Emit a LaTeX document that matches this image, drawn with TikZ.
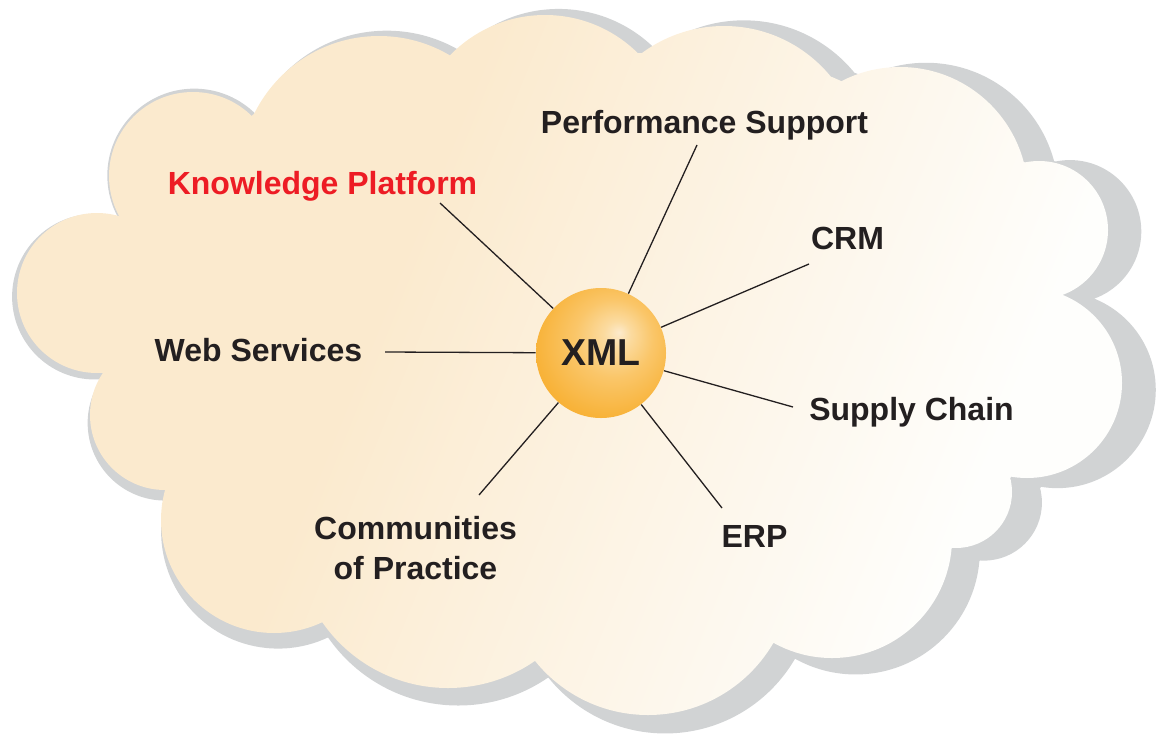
\documentclass[tikz,border=0pt]{standalone}
\usepackage{fontspec}
\setsansfont{Liberation Sans}

% colours
\definecolor{cloudA}{RGB}{251,234,206}
\definecolor{cloudB}{RGB}{253,246,234}
\definecolor{cloudC}{RGB}{254,254,252}
\definecolor{cloudShadow}{RGB}{209,211,212}
\definecolor{inkdark}{RGB}{35,31,32}
\definecolor{inkred}{RGB}{237,28,36}
\definecolor{ballA}{RGB}{252,234,204}
\definecolor{ballB}{RGB}{251,219,160}
\definecolor{ballC}{RGB}{250,198,105}
\definecolor{ballD}{RGB}{248,179,58}
\definecolor{ballE}{RGB}{246,168,35}

% cloud body: cream on the upper left fading to white on the lower right
\pgfdeclarehorizontalshading{cloudgrad}{100bp}{%
  color(0bp)=(cloudA); color(40bp)=(cloudA); color(58bp)=(cloudB);
  color(70bp)=(cloudC); color(100bp)=(cloudC)}
% central sphere, soft highlight towards the upper right
\pgfdeclareradialshading{xmlball}{\pgfpoint{7bp}{8bp}}{%
  color(0bp)=(ballA); color(5bp)=(ballB); color(15bp)=(ballC);
  color(28bp)=(ballD); color(38bp)=(ballE); color(50bp)=(ballE)}

\tikzset{
  lab/.style={font=\fontsize{16}{20}\selectfont\sffamily\bfseries,
    text=inkdark, inner sep=0pt},
  conn/.style={draw=inkdark, line width=0.65pt},
  hub/.style={circle, minimum size=65pt, inner sep=0pt, shade, shading=xmlball,
    font=\fontsize{18.75}{22}\selectfont\sffamily\bfseries, text=inkdark}
}

% cloud outline: core polygon through the cusps, plus one circle per lobe
\def\cloudcore{(103,373) -- (130,220) -- (255,113) -- (452,57) -- (641,53)
  -- (832,77) -- (1026,163) -- (1063,295) -- (1011,477) -- (952,548)
  -- (774,643) -- (535,661) -- (322,622) -- (165,490) -- cycle}
\def\cloudlobes{97/293/80, 193/176/84, 379/175/139, 545/147/132,
  724/164/138, 900/195/128, 1039/230/69, 1027/383/95, 956/492/56,
  832/538/120, 648/570/145, 448/535/153, 274/520/113, 165/415/75}

\begin{document}
\begin{tikzpicture}[x=0.5pt, y=-0.5pt]
\useasboundingbox (0,0) rectangle (1161,734);

% drop shadow: the cloud enlarged slightly towards the lower right
\begin{scope}[scale around={1.035:(157,188)}]
  \fill[cloudShadow] \cloudcore;
  \foreach \cx/\cy/\r in \cloudlobes
    \fill[cloudShadow] (\cx,\cy) circle[radius=\r];
\end{scope}

% cloud body, every piece painted with the same gradient
\begin{scope}
  \clip \cloudcore;
  \shade[shading=cloudgrad, shading angle=-22] (0,0) rectangle (1161,734);
\end{scope}
\foreach \cx/\cy/\r in \cloudlobes {
  \begin{scope}
    \clip (\cx,\cy) circle[radius=\r];
    \shade[shading=cloudgrad, shading angle=-22] (0,0) rectangle (1161,734);
  \end{scope}
}

% hub
\node[hub] (xml) at (601,353) {XML};

% labels
\node[lab, anchor=base] (ps) at (704.5,133) {Performance Support};
\node[lab, anchor=base, text=inkred] (kp) at (322.5,194.5) {Knowledge Platform};
\node[lab, anchor=base] (crm) at (847.5,249) {CRM};
\node[lab, anchor=base] (ws) at (258.5,361) {Web Services};
\node[lab, anchor=base] (sc) at (911.5,420) {Supply Chain};
\node[lab, anchor=base] (erp) at (754.5,547) {ERP};
\node[lab, anchor=south, align=center] (cop) at (415.5,580) {Communities\\of Practice};

% outer ends of the spokes
\coordinate (psEnd) at (697,145);
\coordinate (kpEnd) at (440,203);
\coordinate (crmEnd) at (809,264);
\coordinate (wsEnd) at (385,352);
\coordinate (scEnd) at (793,407);
\coordinate (erpEnd) at (722,508);
\coordinate (copEnd) at (479,495);

% spokes
\foreach \e in {psEnd,kpEnd,crmEnd,wsEnd,scEnd,erpEnd,copEnd}
  \draw[conn] (xml) -- (\e);
\end{tikzpicture}
\end{document}
